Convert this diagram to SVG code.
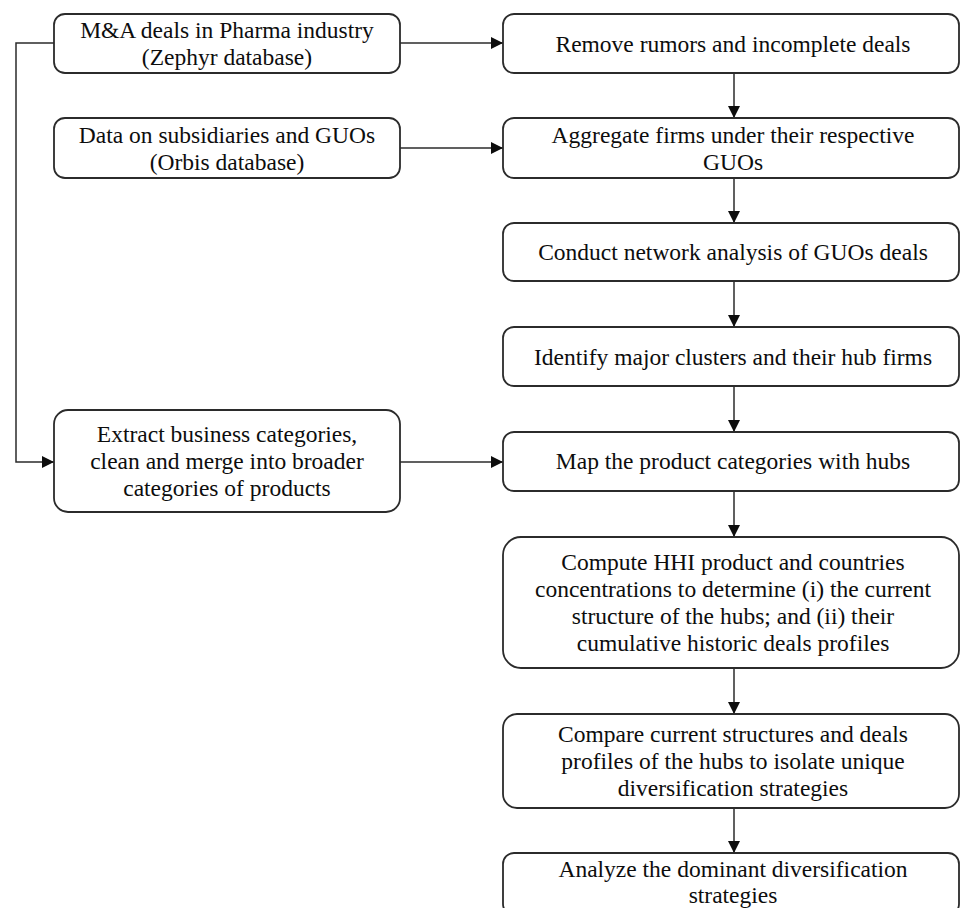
<svg xmlns="http://www.w3.org/2000/svg" width="961" height="908" viewBox="0 0 961 908">
<style>
.box{fill:#fff;stroke:#2b2b2b;stroke-width:1.8}
.t{font-family:"Liberation Serif","Times New Roman",serif;font-size:23.5px;fill:#0d0d0d;text-anchor:middle}
.c{fill:none;stroke:#2b2b2b;stroke-width:1.5}
</style>
<defs>
<marker id="ah" viewBox="0 0 12 12" refX="12" refY="6" markerWidth="12" markerHeight="12" markerUnits="userSpaceOnUse" orient="auto">
<path d="M0,0 L12,6 L0,12 Z" fill="#0d0d0d"/>
</marker>
</defs>
<rect width="961" height="908" fill="#fff"/>
<g id="connectors">
<path class="c" d="M400,43 H503" marker-end="url(#ah)"/>
<path class="c" d="M400,148 H503" marker-end="url(#ah)"/>
<path class="c" d="M54,43 H16 V462 H54" marker-end="url(#ah)"/>
<path class="c" d="M400,462 H503" marker-end="url(#ah)"/>
<path class="c" d="M734,73 V118" marker-end="url(#ah)"/>
<path class="c" d="M734,178 V223" marker-end="url(#ah)"/>
<path class="c" d="M734,281 V327" marker-end="url(#ah)"/>
<path class="c" d="M734,386 V432" marker-end="url(#ah)"/>
<path class="c" d="M734,491 V537" marker-end="url(#ah)"/>
<path class="c" d="M734,668 V714" marker-end="url(#ah)"/>
<path class="c" d="M734,808 V853" marker-end="url(#ah)"/>
</g>
<g id="n-ma">
<rect class="box" x="54" y="14" width="346" height="59" rx="11"/>
<text class="t" x="227" y="38">M&amp;A deals in Pharma industry</text>
<text class="t" x="227" y="65">(Zephyr database)</text>
</g>
<g id="n-orbis">
<rect class="box" x="54" y="118" width="346" height="60" rx="11"/>
<text class="t" x="227" y="143">Data on subsidiaries and GUOs</text>
<text class="t" x="227" y="170">(Orbis database)</text>
</g>
<g id="n-extract">
<rect class="box" x="54" y="410" width="346" height="102" rx="14"/>
<text class="t" x="227" y="442">Extract business categories,</text>
<text class="t" x="227" y="469">clean and merge into broader</text>
<text class="t" x="227" y="496">categories of products</text>
</g>
<g id="n-remove">
<rect class="box" x="503" y="14" width="456" height="59" rx="11"/>
<text class="t" x="733" y="52">Remove rumors and incomplete deals</text>
</g>
<g id="n-aggregate">
<rect class="box" x="503" y="118" width="456" height="60" rx="11"/>
<text class="t" x="733" y="143">Aggregate firms under their respective</text>
<text class="t" x="733" y="170">GUOs</text>
</g>
<g id="n-network">
<rect class="box" x="503" y="223" width="456" height="58" rx="11"/>
<text class="t" x="733" y="260">Conduct network analysis of GUOs deals</text>
</g>
<g id="n-identify">
<rect class="box" x="503" y="327" width="456" height="59" rx="11"/>
<text class="t" x="733" y="365">Identify major clusters and their hub firms</text>
</g>
<g id="n-map">
<rect class="box" x="503" y="432" width="456" height="59" rx="11"/>
<text class="t" x="733" y="469">Map the product categories with hubs</text>
</g>
<g id="n-hhi">
<rect class="box" x="503" y="537" width="456" height="131" rx="18"/>
<text class="t" x="733" y="570">Compute HHI product and countries</text>
<text class="t" x="733" y="597">concentrations to determine (i) the current</text>
<text class="t" x="733" y="624">structure of the hubs; and (ii) their</text>
<text class="t" x="733" y="651">cumulative historic deals profiles</text>
</g>
<g id="n-compare">
<rect class="box" x="503" y="714" width="456" height="94" rx="14"/>
<text class="t" x="733" y="742">Compare current structures and deals</text>
<text class="t" x="733" y="769">profiles of the hubs to isolate unique</text>
<text class="t" x="733" y="796">diversification strategies</text>
</g>
<g id="n-analyze">
<rect class="box" x="503" y="853" width="456" height="62" rx="11"/>
<text class="t" x="733" y="877">Analyze the dominant diversification</text>
<text class="t" x="733" y="903">strategies</text>
</g>
</svg>
